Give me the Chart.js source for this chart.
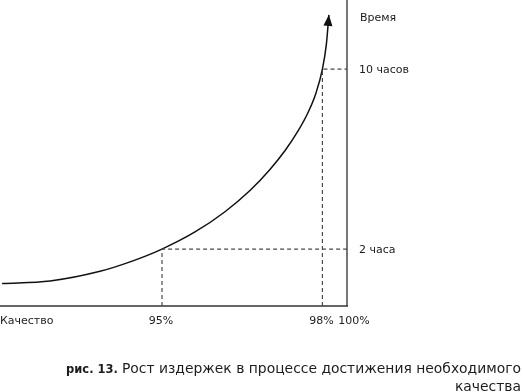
<!DOCTYPE html>
<html lang="ru">
<head>
<meta charset="utf-8">
<title>Рост издержек</title>
<script src="https://cdn.jsdelivr.net/npm/chart.js@4.4.1/dist/chart.umd.min.js"></script>
<style>
    html, body { margin: 0; padding: 0; background: #fff; }
    #wrap { width: 523px; height: 392px; }
</style>
</head>
<body>
<div id="wrap"><canvas id="chart" width="523" height="392"></canvas></div>
<script>
// ------------------------------
// Data
// ------------------------------
const qualityPct = [92.009, 92.907, 93.841, 94.402, 95.000, 95.617, 96.178, 96.645, 97.019, 97.299, 97.542, 97.729, 97.879, 98.000, 98.075, 98.121]; // x, %
const timeHours = [0.47, 0.58, 1.01, 1.43, 2.00, 2.76, 3.66, 4.60, 5.54, 6.37, 7.24, 8.06, 8.93, 10.00, 11.12, 12.41];                              // y, hours

const markQuality = [95, 98];              // dashed guides: x
const markHours = [2, 10];                 // dashed guides: y
const xTickLabels = ['95%', '98%'];
const yTickLabels = ['2 часа', '10 часов'];
const xAxisTitle = 'Качество';
const xAxisEnd = '100%';
const yAxisTitle = 'Время';

const xRange = [91.97, 98.46];
const yRange = [-0.53, 13.07];

const captionBold = 'рис. 13.';
const captionLines = ['Рост издержек в процессе достижения необходимого', 'качества'];

const FONT = '"DejaVu Sans", sans-serif';
const INK = '#1c1c1c';

// ------------------------------
// Datasets
// ------------------------------
const curve = qualityPct.map((q, i) => ({ x: q, y: timeHours[i] }));

const guideSets = markQuality.map((q, i) => ({
    data: [
        { x: q, y: yRange[0] },
        { x: q, y: markHours[i] },
        { x: xRange[1], y: markHours[i] }
    ],
    borderColor: '#4a4a4a',
    borderWidth: 1.2,
    borderDash: [4, 3],
    pointRadius: 0,
    showLine: true,
    tension: 0
}));

// ------------------------------
// Axes, arrow head and all the text
// ------------------------------
const decor = {
    id: 'decor',
    beforeDatasetsDraw(chart) {
        const { ctx, chartArea: a } = chart;
        ctx.save();
        // vertical axis (right side)
        ctx.strokeStyle = '#777';
        ctx.lineWidth = 2;
        ctx.beginPath();
        ctx.moveTo(a.right, 0);
        ctx.lineTo(a.right, a.bottom);
        ctx.stroke();
        // horizontal axis
        ctx.strokeStyle = '#333';
        ctx.lineWidth = 1.5;
        ctx.beginPath();
        ctx.moveTo(0, a.bottom);
        ctx.lineTo(a.right + 1, a.bottom);
        ctx.stroke();
        ctx.restore();
    },
    afterDatasetsDraw(chart) {
        const { ctx, chartArea: a, scales: { x, y } } = chart;
        ctx.save();

        // arrow head at the end of the curve
        const n = curve.length;
        const tx = x.getPixelForValue(curve[n - 1].x), ty = y.getPixelForValue(curve[n - 1].y);
        const px = x.getPixelForValue(curve[n - 2].x), py = y.getPixelForValue(curve[n - 2].y);
        const ang = Math.atan2(ty - py, tx - px);
        const len = 11, half = 4.5;
        ctx.fillStyle = '#111';
        ctx.beginPath();
        ctx.moveTo(tx, ty);
        ctx.lineTo(tx - len * Math.cos(ang) + half * Math.sin(ang), ty - len * Math.sin(ang) - half * Math.cos(ang));
        ctx.lineTo(tx - len * Math.cos(ang) - half * Math.sin(ang), ty - len * Math.sin(ang) + half * Math.cos(ang));
        ctx.closePath();
        ctx.fill();

        // y labels
        ctx.fillStyle = INK;
        ctx.font = '11px ' + FONT;
        ctx.textBaseline = 'middle';
        ctx.textAlign = 'left';
        ctx.fillText(yAxisTitle, a.right + 13, 18);
        markHours.forEach((h, i) => {
            ctx.fillText(yTickLabels[i], a.right + 12, y.getPixelForValue(h) + 1.5);
        });

        // x labels
        const ly = a.bottom + 15;
        ctx.fillText(xAxisTitle, 0, ly);
        ctx.textAlign = 'center';
        markQuality.forEach((q, i) => {
            ctx.fillText(xTickLabels[i], x.getPixelForValue(q) - 1, ly);
        });
        ctx.fillText(xAxisEnd, a.right + 7, ly);

        // caption, right aligned
        ctx.textBaseline = 'alphabetic';
        ctx.textAlign = 'right';
        ctx.font = '13.9px ' + FONT;
        const right = 521;
        ctx.fillText(captionLines[0], right, 373);
        const w = ctx.measureText(captionLines[0]).width;
        ctx.fillText(captionLines[1], right, 391);
        ctx.font = 'bold 11.5px ' + FONT;
        ctx.fillText(captionBold, right - w - 4, 373);

        ctx.restore();
    }
};

// ------------------------------
// Chart
// ------------------------------
new Chart(document.getElementById('chart').getContext('2d'), {
    type: 'scatter',
    data: {
        datasets: [
            ...guideSets,
            {
                data: curve,
                borderColor: '#111',
                borderWidth: 1.5,
                pointRadius: 0,
                showLine: true,
                cubicInterpolationMode: 'monotone'
            }
        ]
    },
    options: {
        responsive: false,
        animation: false,
        devicePixelRatio: 1,
        layout: { padding: { left: 0, top: 0, right: 176, bottom: 86 } },
        plugins: { legend: { display: false }, tooltip: { enabled: false } },
        scales: {
            x: { type: 'linear', display: false, min: xRange[0], max: xRange[1] },
            y: { type: 'linear', display: false, min: yRange[0], max: yRange[1] }
        }
    },
    plugins: [decor]
});
</script>
</body>
</html>
